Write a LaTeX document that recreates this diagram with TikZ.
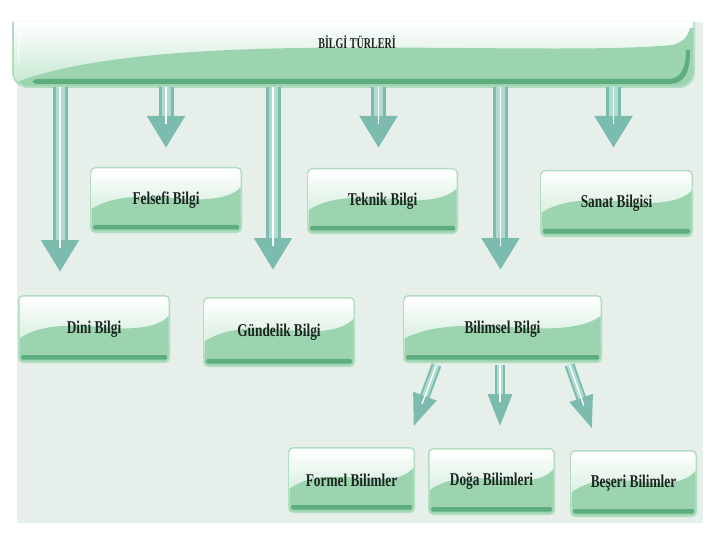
\documentclass[tikz,border=0pt]{standalone}
\usepackage{fontspec}
\setmainfont{Liberation Serif}
\usetikzlibrary{arrows.meta}
\definecolor{bgcol}{HTML}{E6EFE9}
\definecolor{boxgreen}{HTML}{9DD4B0}
\definecolor{boxgreenL}{HTML}{C4E7D0}
\definecolor{rimgreen}{HTML}{B2DDC1}
\definecolor{darkstrip}{HTML}{5EAD7E}
\definecolor{arrdark}{HTML}{7BBCAE}
\definecolor{arrlight}{HTML}{B0DBD1}
\definecolor{txtcol}{HTML}{1C2620}
\tikzset{
  lbl/.style={inner sep=0pt, outer sep=0pt, text=txtcol,
    font=\bfseries\fontsize{18}{20}\selectfont},
  ttl/.style={inner sep=0pt, outer sep=0pt, text=txtcol,
    font=\bfseries\fontsize{15}{17}\selectfont},
}
\newcommand\gbox[6]{%
  \pgfmathsetmacro\bw{#4-#2}\pgfmathsetmacro\bh{#5-#3}%
  \fill[rimgreen, rounded corners=5pt] (#2,-#3) rectangle (#4,-#5);
  \shade[top color=white, bottom color=boxgreenL, rounded corners=4pt] (#2+1.5,-#3-1.5) rectangle (#4-1.5,-#5+1.5);
  \begin{scope}
    \clip[rounded corners=4pt] (#2+1.5,-#3-1.5) rectangle (#4-1.5,-#5+1.5);
    \fill[boxgreen] (#2,-#5) -- (#2,-#5+0.35*\bh)
      .. controls (#2+0.15*\bw,-#5+0.58*\bh) and (#2+0.35*\bw,-#5+0.57*\bh) .. (#2+0.6*\bw,-#5+0.52*\bh)
      .. controls (#2+0.8*\bw,-#5+0.48*\bh) and (#2+0.95*\bw,-#5+0.55*\bh) .. (#4,-#5+0.72*\bh)
      -- (#4,-#5) -- cycle;
    \fill[white, opacity=0.85, rounded corners=3pt] (#2+4,-#3-3) rectangle (#4-4,-#3-11);
  \end{scope}
  \fill[darkstrip, rounded corners=1.5pt] (#2+3,-#5+8) rectangle (#4-3,-#5+3.5);
  \node[lbl, minimum width=\bw pt, minimum height=\bh pt] (#1) at ({(#2+#4)/2},{-(#3+#5)/2}) {\scalebox{0.74}[1]{#6}};
}
\newcommand\barrow[5]{%
  \pgfmathsetmacro\inw{#3*0.6}%
  \draw[line width=#3pt, color=arrdark, -{Triangle[width=#4pt,length=#5pt]}] #1 -- #2;
  \draw[line width=\inw pt, color=arrlight, shorten >=#5pt] #1 -- #2;
  \draw[line width=1.3pt, color=white, shorten >=#5pt-8pt] #1 -- #2;
}
\begin{document}
\begin{tikzpicture}[x=1pt,y=1pt]
\useasboundingbox (0,0) rectangle (720,-540);
\fill[white] (0,0) rectangle (720,-540);
\fill[bgcol] (17,-22) rectangle (703,-523);
% banner
\fill[rimgreen] (12,-22) -- (12,-72) arc[start angle=180,end angle=270,radius=16] -- (679,-88) arc[start angle=270,end angle=360,radius=16] -- (695,-22) -- cycle;
\shade[top color=white, bottom color=boxgreenL] (14,-22) -- (14,-72) arc[start angle=180,end angle=270,radius=14] -- (679,-86) arc[start angle=270,end angle=360,radius=14] -- (693,-22) -- cycle;
\begin{scope}
  \clip (14,-22) -- (14,-72) arc[start angle=180,end angle=270,radius=14] -- (679,-86) arc[start angle=270,end angle=360,radius=14] -- (693,-22) -- cycle;
  \fill[boxgreen] (12,-90) -- (12,-84) .. controls (60,-64) and (150,-50) .. (300,-48)
    .. controls (450,-46) and (600,-52) .. (672,-45) .. controls (685,-42) and (688,-35) .. (690,-28) -- (697,-28) -- (697,-90) -- cycle;
\end{scope}
\fill[darkstrip] (40,-79) -- (668,-79) .. controls (680,-79) and (686,-70) .. (686,-50) -- (690,-50) .. controls (690,-74) and (684,-84) .. (668,-84) -- (40,-84) .. controls (30,-84) and (30,-79) .. (40,-79) -- cycle;
\draw[white, line width=1pt] (19,-62) .. controls (18,-50) and (19,-40) .. (22,-32);
\node[inner sep=0pt, minimum width=683pt, minimum height=66pt] (top) at (353.5,-55) {};
\node[ttl] (title) at (357,-42) {\scalebox{0.67}[1]{BİLGİ TÜRLERİ}};
% boxes
\gbox{felsefi}{90}{167}{242}{233}{Felsefi Bilgi}
\gbox{teknik}{307}{168}{458}{234}{Teknik Bilgi}
\gbox{sanat}{540}{170}{693}{237}{Sanat Bilgisi}
\gbox{dini}{18}{295}{170}{363}{Dini Bilgi}
\gbox{gundelik}{203}{297}{355}{367}{Gündelik Bilgi}
\gbox{bilimsel}{403}{295}{602}{363}{Bilimsel Bilgi}
\gbox{formel}{288}{447}{415}{513}{Formel Bilimler}
\gbox{doga}{428}{448}{555}{515}{Doğa Bilimleri}
\gbox{beseri}{570}{450}{697}{517}{Beşeri Bilimler}
% arrows
\barrow{([xshift=-34pt,yshift=1pt]top.south -| dini.north)}{([xshift=-34pt,yshift=23pt]dini.north)}{15}{36}{32}
\barrow{([yshift=1pt]top.south -| felsefi.north)}{([yshift=19pt]felsefi.north)}{15}{36}{32}
\barrow{([xshift=-6pt,yshift=1pt]top.south -| gundelik.north)}{([xshift=-6pt,yshift=27pt]gundelik.north)}{15}{36}{32}
\barrow{([xshift=-4pt,yshift=1pt]top.south -| teknik.north)}{([xshift=-4pt,yshift=20pt]teknik.north)}{15}{36}{32}
\barrow{([xshift=-2pt,yshift=1pt]top.south -| bilimsel.north)}{([xshift=-2pt,yshift=25pt]bilimsel.north)}{15}{36}{32}
\barrow{([xshift=-3pt,yshift=1pt]top.south -| sanat.north)}{([xshift=-3pt,yshift=22pt]sanat.north)}{15}{36}{32}
\barrow{([xshift=-66pt,yshift=-2pt]bilimsel.south)}{([xshift=61.5pt,yshift=19pt]formel.north)}{10}{22}{34}
\barrow{([xshift=-2.5pt,yshift=-2pt]bilimsel.south)}{([xshift=8.5pt,yshift=20pt]doga.north)}{10}{22}{34}
\barrow{([xshift=67pt,yshift=-2pt]bilimsel.south)}{([xshift=-41pt,yshift=20pt]beseri.north)}{10}{22}{34}
\end{tikzpicture}
\end{document}
